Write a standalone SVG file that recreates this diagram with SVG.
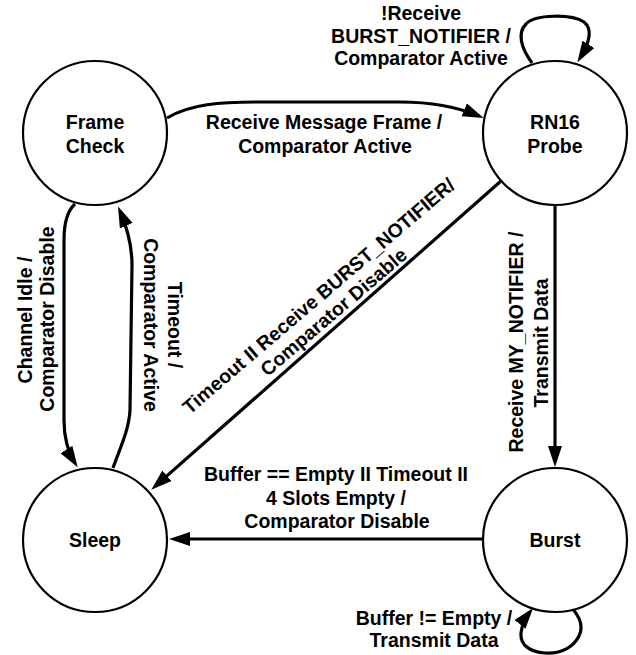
<svg xmlns="http://www.w3.org/2000/svg" width="636" height="655" viewBox="0 0 636 655">
<style>
.t{font-family:"Liberation Sans",Arial,Helvetica,sans-serif;font-weight:bold;font-size:19.5px;fill:#000;text-anchor:middle}
.n{fill:#fff;stroke:#000;stroke-width:2.2}
.e{fill:none;stroke:#000;stroke-width:3.2;marker-end:url(#ah)}
</style>
<defs>
<marker id="ah" markerUnits="userSpaceOnUse" markerWidth="22" markerHeight="16" refX="16" refY="7" orient="auto">
<path d="M0,0 L21,7 L0,14 z" fill="#000"/>
</marker>
</defs>
<rect width="636" height="655" fill="#fff"/>
<g id="connectors">
<path class="e" d="M167,118 C190,104 220,102 260,102 L400,102 C430,102 455,106 479,116"/>
<path class="e" d="M532,63 C521,48 517,33 526,24 C535,14 572,14 584,22 C594,30 588,45 580,58"/>
<path class="e" d="M75,204 C66,212 64,225 64,240 L64,420 C64,440 68,452 75,463"/>
<path class="e" d="M113,468 C120,448 129,430 130,410 L132,265 C132,245 126,225 120,211"/>
<path class="e" d="M501,181 L155,486.4"/>
<path class="e" d="M555,205 L555,462"/>
<path class="e" d="M483,539 L174,539"/>
<path class="e" d="M572,608 C579,616 584,626 579,636 C573,648 560,654 545,653 C530,652 520,645 521,633 C522,624 526,617 530,612"/>
<text class="t" x="324" y="129">Receive Message Frame /</text>
<text class="t" x="325" y="153">Comparator Active</text>
<text class="t" x="421" y="20">!Receive</text>
<text class="t" x="421" y="43">BURST_NOTIFIER /</text>
<text class="t" x="421" y="65">Comparator Active</text>
<text class="t" x="32" y="320" transform="rotate(-90 32 320)">Channel Idle /</text>
<text class="t" x="54" y="319" transform="rotate(-90 54 319)">Comparator Disable</text>
<text class="t" x="168" y="325" transform="rotate(90 168 325)">Timeout /</text>
<text class="t" x="144" y="325" transform="rotate(90 144 325)">Comparator Active</text>
<text class="t" x="323" y="301" transform="rotate(-40.5 323 301)">Timeout II Receive BURST_NOTIFIER/</text>
<text class="t" x="338" y="317" transform="rotate(-40.5 338 317)">Comparator Disable</text>
<text class="t" x="523" y="342" transform="rotate(-90 523 342)">Receive MY_NOTIFIER /</text>
<text class="t" x="548" y="343" transform="rotate(-90 548 343)">Transmit Data</text>
<text class="t" x="336" y="481">Buffer == Empty II Timeout II</text>
<text class="t" x="336" y="505">4 Slots Empty /</text>
<text class="t" x="337" y="528">Comparator Disable</text>
<text class="t" x="434" y="625">Buffer != Empty /</text>
<text class="t" x="434" y="647">Transmit Data</text>
</g>
<g id="frame-check">
<circle class="n" cx="95" cy="133" r="72"/>
<text class="t" x="95" y="129">Frame</text>
<text class="t" x="95" y="153">Check</text>
</g>
<g id="rn16-probe">
<circle class="n" cx="555" cy="133" r="72"/>
<text class="t" x="555" y="129">RN16</text>
<text class="t" x="555" y="153">Probe</text>
</g>
<g id="sleep">
<circle class="n" cx="95" cy="540" r="72"/>
<text class="t" x="95" y="547">Sleep</text>
</g>
<g id="burst">
<circle class="n" cx="555" cy="540" r="72"/>
<text class="t" x="555" y="547">Burst</text>
</g>
</svg>
